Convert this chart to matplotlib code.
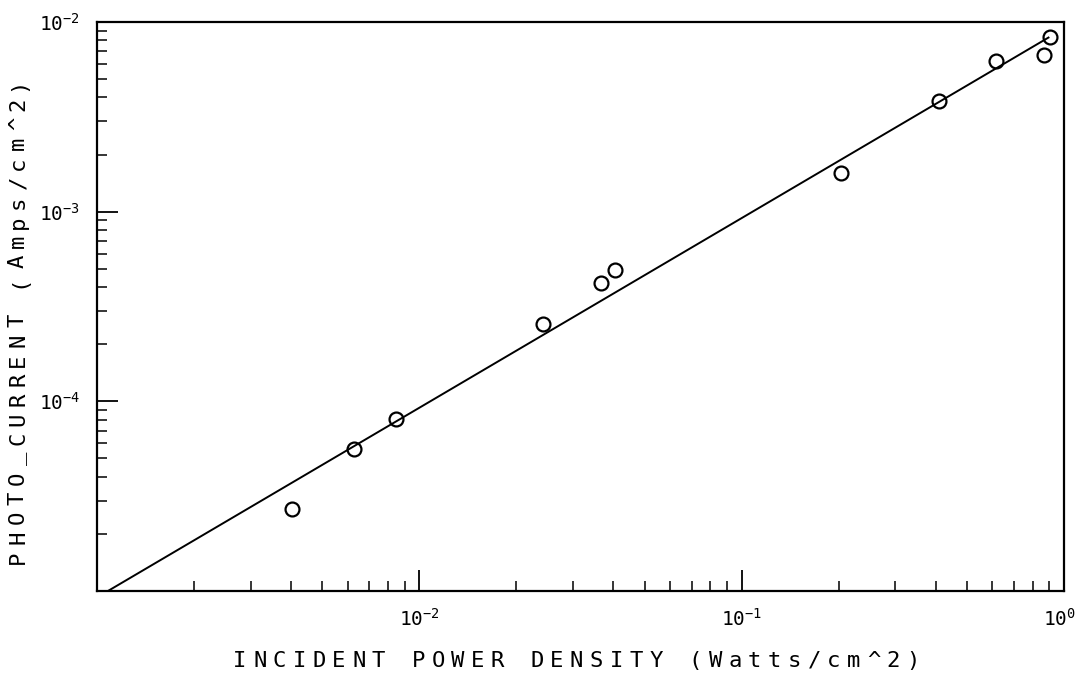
import matplotlib
matplotlib.use("Agg")
import matplotlib.pyplot as plt
from matplotlib.ticker import LogLocator, FuncFormatter, NullFormatter
from matplotlib.transforms import ScaledTranslation
import numpy as np

# measured photocurrent vs incident power density
power_density = [0.00402, 0.00625, 0.00849, 0.0242, 0.0365, 0.0404,
                 0.204, 0.410, 0.615, 0.867, 0.906]
photo_current = [2.70e-5, 5.61e-5, 8.07e-5, 2.57e-4, 4.20e-4, 4.90e-4,
                 1.60e-3, 3.83e-3, 6.22e-3, 6.70e-3, 8.35e-3]

# linear fit J = k * P drawn across the measured range
fit_k = 0.00925
fit_range = [1.08e-3, 0.895]

x_limits = (1e-3, 1e0)
y_limits = (1e-5, 1e-2)
x_labelled = [1e-2, 1e-1, 1e0]
y_labelled = [1e-4, 1e-3, 1e-2]

W, H = 1078, 674
plt.rcParams["font.family"] = "DejaVu Sans Mono"
plt.rcParams["mathtext.fontset"] = "custom"
plt.rcParams["mathtext.rm"] = "DejaVu Sans Mono"
plt.rcParams["mathtext.default"] = "regular"

fig = plt.figure(figsize=(W / 100, H / 100), dpi=100)
ax = fig.add_axes([97 / W, 83 / H, (1064 - 97) / W, (591 - 22) / H])

ax.plot(power_density, photo_current, "o", mfc="none", mec="black",
        ms=10, mew=1.6)
fx = np.array(fit_range)
ax.plot(fx, fit_k * fx, color="black", lw=1.4)

ax.set_xscale("log")
ax.set_yscale("log")
ax.set_xlim(*x_limits)
ax.set_ylim(*y_limits)

def decade_label(keep):
    def fmt(v, pos):
        for k in keep:
            if abs(np.log10(v) - np.log10(k)) < 1e-6:
                return r"$10^{%d}$" % round(np.log10(k))
        return ""
    return fmt

for axis, keep in ((ax.xaxis, x_labelled), (ax.yaxis, y_labelled)):
    axis.set_major_locator(LogLocator(base=10, numticks=10))
    axis.set_minor_locator(LogLocator(base=10, subs=np.arange(2, 10), numticks=20))
    axis.set_major_formatter(FuncFormatter(decade_label(keep)))
    axis.set_minor_formatter(NullFormatter())

ax.tick_params(which="major", direction="in", length=15, width=1.3,
               labelsize=14, top=False, right=False)
ax.tick_params(which="minor", direction="in", length=7, width=1.1,
               top=False, right=False)
ax.tick_params(axis="x", which="major", pad=12)
ax.tick_params(axis="y", which="major", pad=12)
for s in ax.spines.values():
    s.set_linewidth(1.6)

# 10^0 sits right at the figure edge, nudge it inwards a little
fig.canvas.draw()
for tick in ax.xaxis.get_major_ticks():
    if abs(tick.get_loc() - 1.0) < 1e-9:
        lab = tick.label1
        lab.set_transform(lab.get_transform()
                          + ScaledTranslation(-0.05, 0, fig.dpi_scale_trans))


def spaced_text(x0, y0, s, pitch, size, vertical=False):
    # plotter-style lettering: one glyph per fixed pitch, in pixel units
    for i, ch in enumerate(s):
        if ch == " ":
            continue
        if vertical:
            px, py, rot = x0, y0 + i * pitch, 90
        else:
            px, py, rot = x0 + i * pitch, y0, 0
        fig.text(px / W, py / H, ch, fontsize=size, rotation=rot,
                 ha="center", va="center")


xlabel = "INCIDENT POWER DENSITY (Watts/cm^2)"
spaced_text(240, H - 661, xlabel, 19.8, 16)

ylabel = "PHOTO_CURRENT (Amps/cm^2)"
spaced_text(18, H - 557, ylabel, 19.7, 16, vertical=True)

fig.savefig("out.png", dpi=100)
